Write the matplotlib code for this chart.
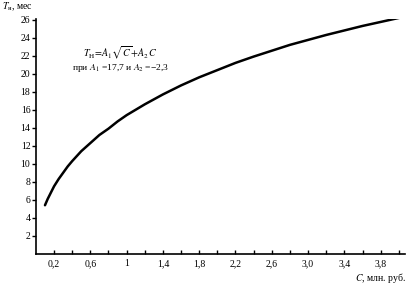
import numpy as np
import matplotlib
matplotlib.use('Agg')
import matplotlib.pyplot as plt

plt.rcParams['font.family'] = ['Liberation Serif', 'DejaVu Serif']
plt.rcParams['mathtext.fontset'] = 'stix'

# points
c_vals = [0.1, 0.13, 0.16, 0.2, 0.25, 0.3, 0.35, 0.4, 0.5, 0.6, 0.7, 0.8, 0.9, 1.0,
          1.2, 1.4, 1.6, 1.8, 2.0, 2.2, 2.4, 2.8, 3.2, 3.6, 4.05]
t_vals = [5.4, 6.1, 6.7, 7.5, 8.3, 9.0, 9.7, 10.3, 11.4, 12.3, 13.2, 13.9, 14.7, 15.4,
          16.6, 17.7, 18.7, 19.6, 20.4, 21.2, 21.9, 23.2, 24.3, 25.3, 26.3]

x_ticks = [0.2 * i for i in range(1, 21)]
x_label_pos = [0.2, 0.6, 1.0, 1.4, 1.8, 2.2, 2.6, 3.0, 3.4, 3.8]
x_label_txt = ['0,2', '0,6', '1', '1,4', '1,8', '2,2', '2,6', '3,0', '3,4', '3,8']
y_ticks = list(range(2, 27, 2))

fig = plt.figure(figsize=(4.08, 2.84), dpi=100)
ax = fig.add_axes([0.088, 0.106, 0.905, 0.828])

ax.plot(c_vals, t_vals, color='black', lw=1.8, solid_capstyle='round')

ax.set_xlim(0, 4.07)
ax.set_ylim(0, 26.1)
ax.spines['top'].set_visible(False)
ax.spines['right'].set_visible(False)
for s in ['left', 'bottom']:
    ax.spines[s].set_linewidth(1.2)

ax.set_xticks(x_ticks)
labels = []
for t in x_ticks:
    lab = ''
    for p, txt in zip(x_label_pos, x_label_txt):
        if abs(p - t) < 1e-6:
            lab = txt
    labels.append(lab)
ax.set_xticklabels(labels)
ax.set_yticks(y_ticks)
ax.tick_params(axis='x', direction='in', length=3, width=1, labelsize=7, pad=4)
ax.tick_params(axis='y', direction='out', length=3, width=1, labelsize=7, pad=1)

fig.text(0.005, 0.955, r'$T_{\mathrm{н}}$, мес', fontsize=7, ha='left', va='bottom')
fig.text(0.995, 0.045, r'$C$, млн. руб.', fontsize=7, ha='right', va='top')

ax.text(0.93, 22.3, r'$T_{\mathrm{H}}\!=\!A_1\sqrt{C}\!+\!A_2\,C$', fontsize=7.2, ha='center', va='center')
ax.text(0.93, 20.6, r'при $A_1$ =17,7 и $A_2$ =−2,3', fontsize=6.8, ha='center', va='center')

fig.savefig('out.png', dpi=100)
